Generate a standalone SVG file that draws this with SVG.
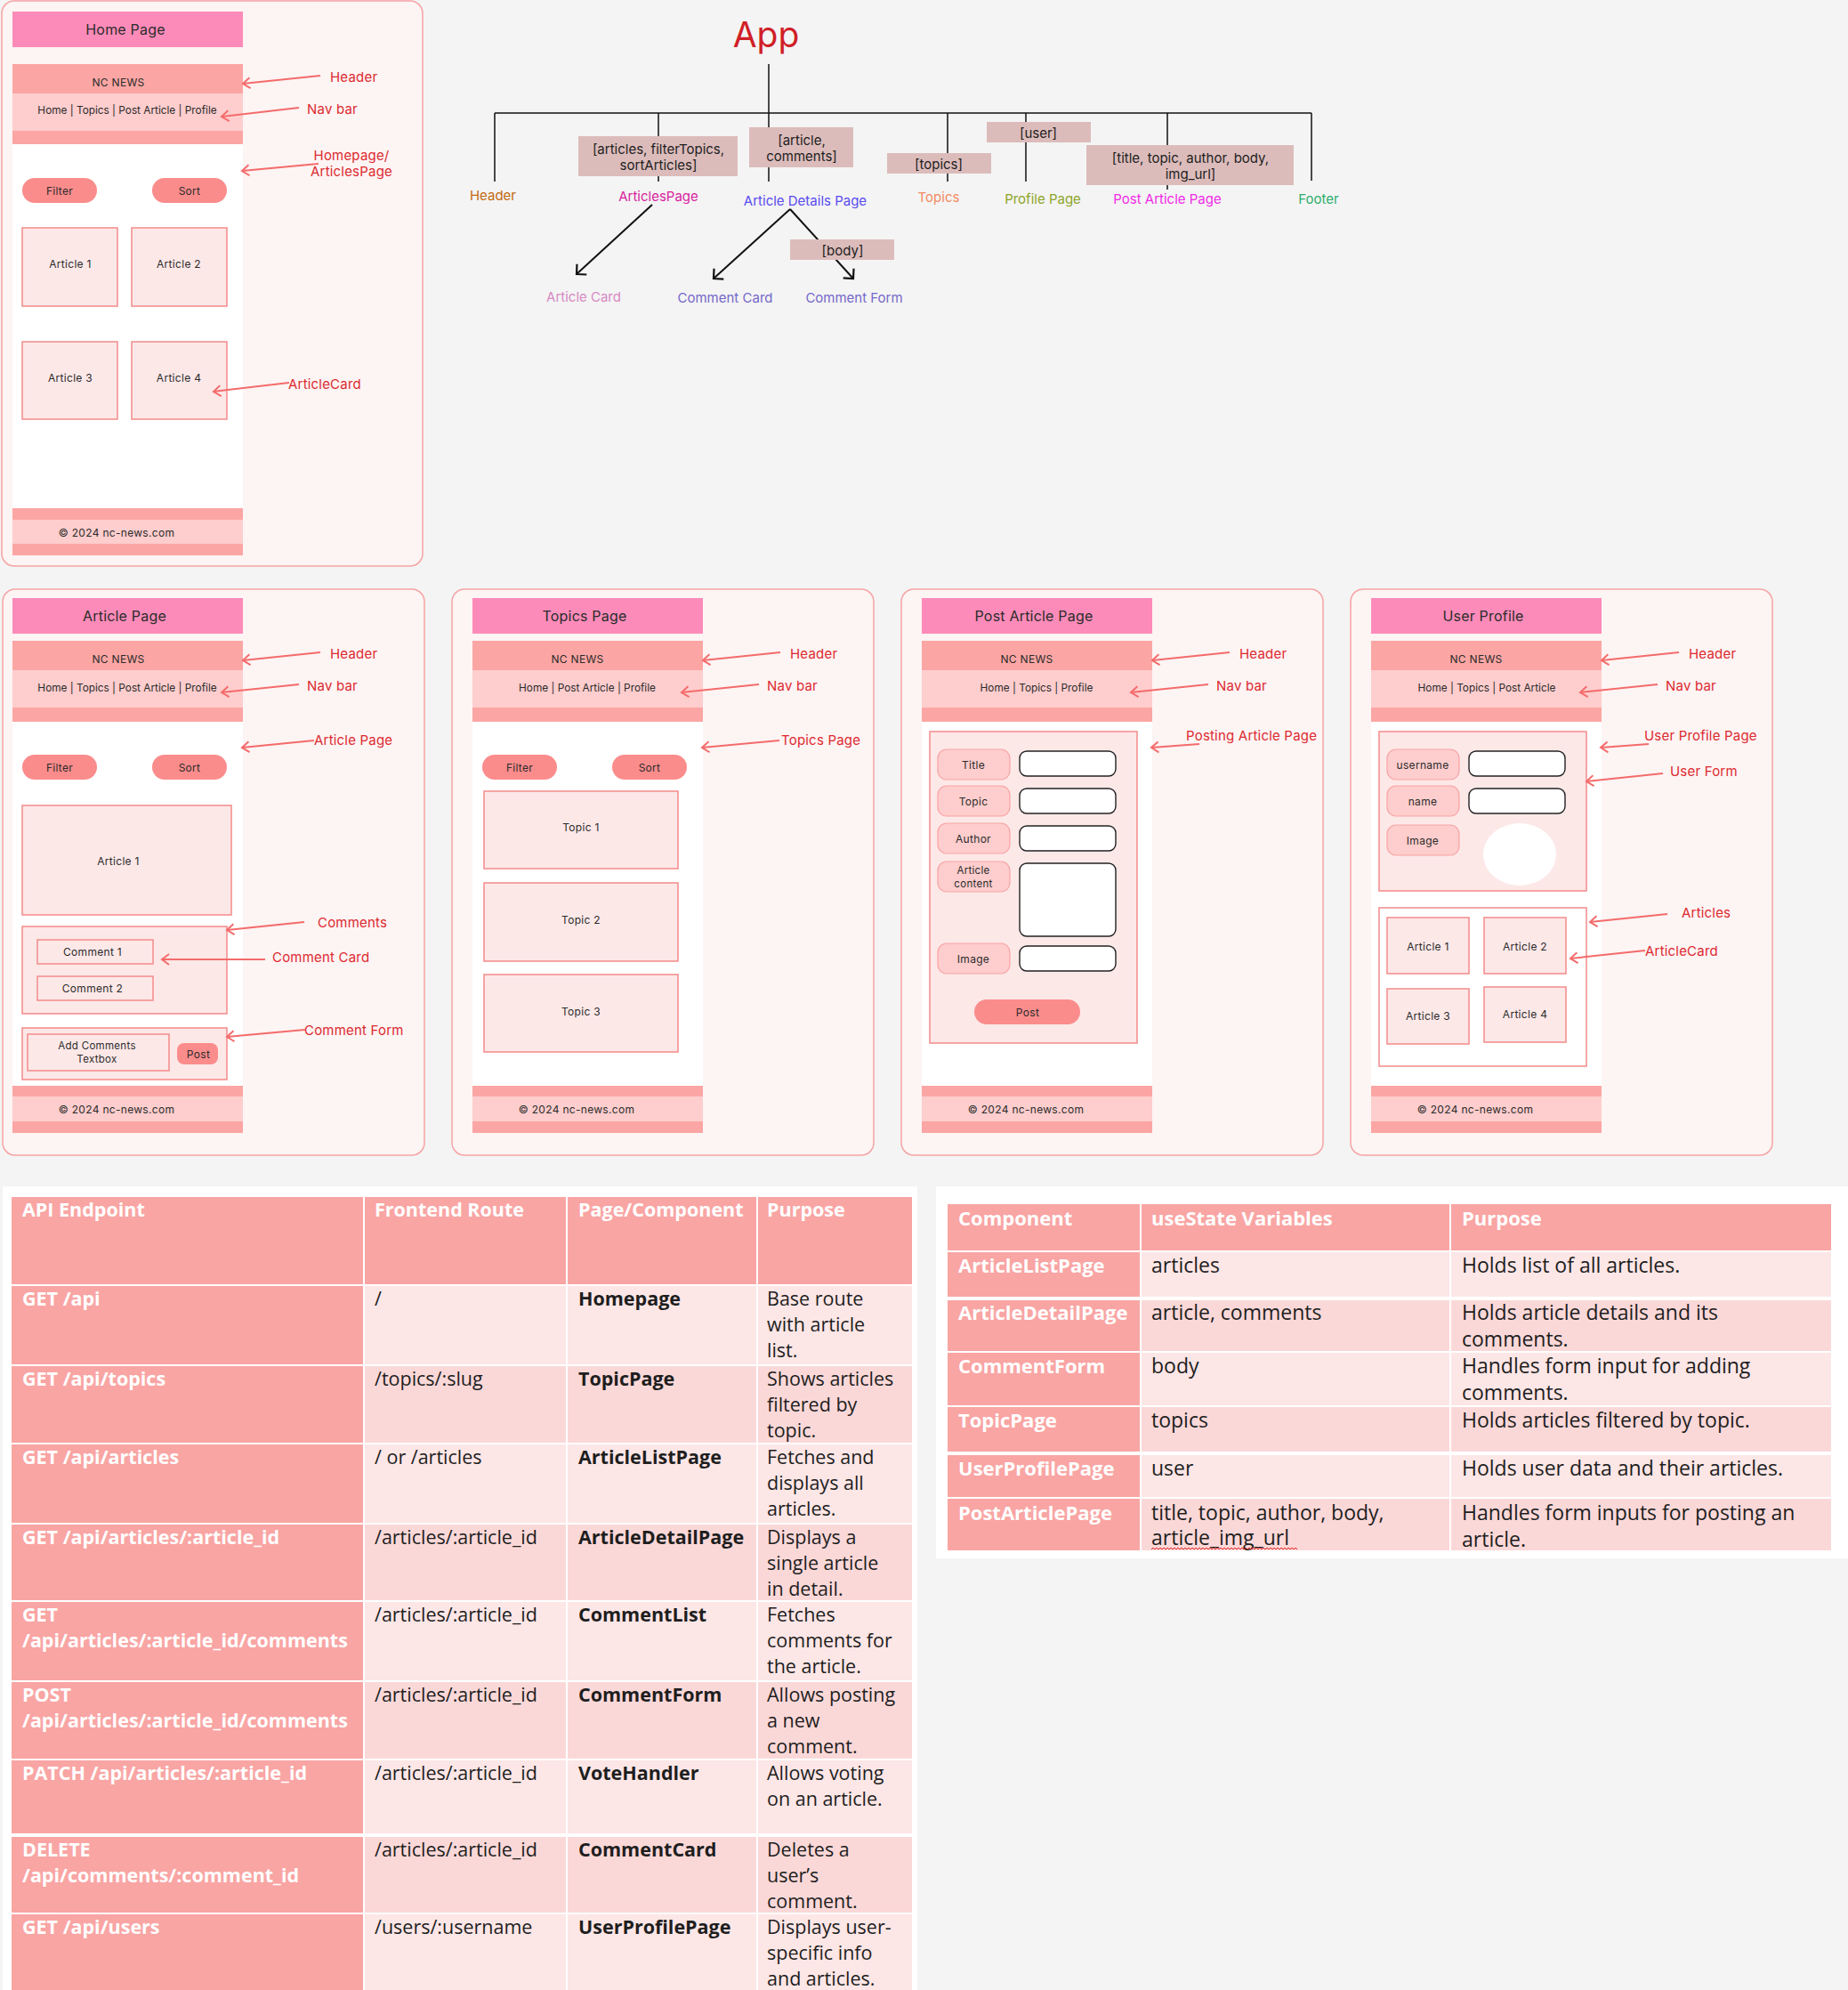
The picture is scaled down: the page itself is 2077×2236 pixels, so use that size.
<svg xmlns="http://www.w3.org/2000/svg" width="2077" height="2236" viewBox="0 0 2077 2236">
<style>
.frame{fill:#fdf4f4;stroke:#f6a3a3;stroke-width:1.5}
.ttl{fill:#fd8bb9}
.band{fill:#fba6a4}
.nav{fill:#fecdcd}
.wh{fill:#ffffff}
.btn{fill:#fb8c8c}
.card{fill:#fde8e8;stroke:#f48a8a;stroke-width:1.5}
.cardw{fill:#ffffff;stroke:#f48a8a;stroke-width:1.5}
.pill{fill:#fecdcd;stroke:#f8a3a3;stroke-width:1.2}
.inp{fill:#ffffff;stroke:#222;stroke-width:1.4}
.w{font-family:Inter,"Liberation Sans",sans-serif;fill:#2b2b2b;text-anchor:middle;dominant-baseline:central;letter-spacing:0.3px}
.s12{font-size:12px}
.s11{font-size:11.5px}
.nv{font-size:11.8px;letter-spacing:0}
.s16{font-size:16px;letter-spacing:0.2px}
.ann{font-family:Inter,"Liberation Sans",sans-serif;font-size:15px;fill:#dc2a2f;dominant-baseline:central;letter-spacing:0.2px}
.mid{text-anchor:middle}
.al{stroke:#f46b6b;stroke-width:2;fill:none;marker-end:url(#ah)}
.tl{stroke:#111;stroke-width:1.5;fill:none}
.ta{stroke:#111;stroke-width:2;fill:none;marker-end:url(#bh)}
.lbl{font-family:Inter,"Liberation Sans",sans-serif;font-size:15px;text-anchor:middle;dominant-baseline:central}
.st{fill:#dcbcbb}
.stt{font-family:Inter,"Liberation Sans",sans-serif;font-size:15px;fill:#1e1e1e;text-anchor:middle;dominant-baseline:central}
.h{fill:#f9a5a4}
.lt{fill:#fde6e6}
.dk{fill:#fbd8d8}
.tb{font-family:"Open Sans","Liberation Sans",sans-serif;font-size:21.5px;fill:#1e1e1e}
.tb2{font-family:"Open Sans","Liberation Sans",sans-serif;font-size:23px;fill:#1e1e1e}
.bw{font-weight:bold;fill:#ffffff}
.bd{font-weight:bold}
.tb2 .bw{font-size:22px}
</style>
<defs>
<marker id="ah" markerUnits="userSpaceOnUse" viewBox="-12 -10 24 20" markerWidth="24" markerHeight="20" refX="0" refY="0" orient="auto">
<path d="M-8,-6 L0,0 L-8,6" fill="none" stroke="#f46b6b" stroke-width="2"/>
</marker>
<marker id="bh" markerUnits="userSpaceOnUse" viewBox="-12 -10 24 20" markerWidth="24" markerHeight="20" refX="0" refY="0" orient="auto">
<path d="M-8,-8 L0,0 L-8,8" fill="none" stroke="#111" stroke-width="2.2"/>
</marker>
</defs>
<rect x="0" y="0" width="2077" height="2236" fill="#f4f4f4"/>

<!-- ===== Home Page ===== -->
<g id="home-page">
<rect class="frame" x="2" y="1" width="473" height="635" rx="14"/>
<rect class="ttl" x="14" y="13" width="259" height="40"/>
<text class="w s16" x="141" y="33">Home Page</text>
<rect class="band" x="14" y="72" width="259" height="33"/>
<rect class="nav" x="14" y="105" width="259" height="42"/>
<rect class="band" x="14" y="147" width="259" height="15"/>
<rect class="wh" x="14" y="162" width="259" height="409"/>
<rect class="band" x="14" y="571" width="259" height="13"/>
<rect class="nav" x="14" y="584" width="259" height="27"/>
<rect class="band" x="14" y="611" width="259" height="13"/>
<text class="w s12" x="133" y="92">NC NEWS</text>
<text class="w nv" x="143" y="124">Home | Topics | Post Article | Profile</text>
<text class="w s12" x="131" y="598">© 2024 nc-news.com</text>
<rect class="btn" x="25" y="200" width="84" height="28" rx="14"/>
<text class="w s12" x="67" y="214">Filter</text>
<rect class="btn" x="171" y="200" width="84" height="28" rx="14"/>
<text class="w s12" x="213" y="214">Sort</text>
<rect class="card" x="25" y="256" width="107" height="88"/>
<text class="w s12" x="79" y="296">Article 1</text>
<rect class="card" x="148" y="256" width="107" height="88"/>
<text class="w s12" x="201" y="296">Article 2</text>
<rect class="card" x="25" y="384" width="107" height="87"/>
<text class="w s12" x="79" y="424">Article 3</text>
<rect class="card" x="148" y="384" width="107" height="87"/>
<text class="w s12" x="201" y="424">Article 4</text>
<text class="ann" x="371" y="86">Header</text>
<text class="ann" x="345" y="122">Nav bar</text>
<text class="ann mid" x="395" y="174">Homepage/</text>
<text class="ann mid" x="395" y="192">ArticlesPage</text>
<text class="ann" x="324" y="431">ArticleCard</text>
</g>

<!-- ===== App tree ===== -->
<g id="app">
<text x="861" y="53" font-family="Inter, 'Liberation Sans', sans-serif" font-size="39" fill="#d01f27" text-anchor="middle">App</text>
</g>
<g id="connectors-tree">
<path class="tl" d="M864,72 V127 M556,127 H1474 M556,127 V204 M740,127 V204 M864,127 V204 M1065,127 V204 M1153,127 V204 M1312,127 V213 M1474,127 V203"/>
<path class="ta" d="M733,230 L648,308"/>
<path class="ta" d="M888,235 L802,313"/>
<path class="ta" d="M888,235 L959,313"/>
</g>
<g id="state-articles"><rect class="st" x="650" y="153" width="179" height="45"/><text class="stt" x="740" y="167">[articles, filterTopics,</text><text class="stt" x="740" y="185">sortArticles]</text></g>
<g id="state-article-comments"><rect class="st" x="842" y="143" width="117" height="45"/><text class="stt" x="901" y="157">[article,</text><text class="stt" x="901" y="175">comments]</text></g>
<g id="state-topics"><rect class="st" x="997" y="172" width="117" height="23"/><text class="stt" x="1055" y="184">[topics]</text></g>
<g id="state-user"><rect class="st" x="1109" y="137" width="117" height="23"/><text class="stt" x="1167" y="149">[user]</text></g>
<g id="state-post"><rect class="st" x="1221" y="163" width="233" height="45"/><text class="stt" x="1338" y="177">[title, topic, author, body,</text><text class="stt" x="1338" y="195">img_url]</text></g>
<g id="state-body"><rect class="st" x="888" y="269" width="117" height="23"/><text class="stt" x="947" y="281">[body]</text></g>
<g id="n-header"><text class="lbl" x="554" y="219" fill="#c26a12">Header</text></g>
<g id="n-articlespage"><text class="lbl" x="740" y="220" fill="#d81f9e">ArticlesPage</text></g>
<g id="n-articledetails"><text class="lbl" x="905" y="225" fill="#5a4cf0">Article Details Page</text></g>
<g id="n-topics"><text class="lbl" x="1055" y="221" fill="#f58a5f">Topics</text></g>
<g id="n-profile"><text class="lbl" x="1172" y="223" fill="#8ea428">Profile Page</text></g>
<g id="n-postarticle"><text class="lbl" x="1312" y="223" fill="#f02be6">Post Article Page</text></g>
<g id="n-footer"><text class="lbl" x="1482" y="223" fill="#2eae6b">Footer</text></g>
<g id="n-articlecard"><text class="lbl" x="656" y="333" fill="#d68ac4">Article Card</text></g>
<g id="n-commentcard"><text class="lbl" x="815" y="334" fill="#7468c9">Comment Card</text></g>
<g id="n-commentform"><text class="lbl" x="960" y="334" fill="#7468c9">Comment Form</text></g>

<!-- ===== Article Page ===== -->
<g id="article-page">
<rect class="frame" x="3" y="662" width="474" height="636" rx="14"/>
<rect class="ttl" x="14" y="672" width="259" height="40"/>
<text class="w s16" x="140" y="692">Article Page</text>
<rect class="band" x="14" y="720" width="259" height="33"/>
<rect class="nav" x="14" y="753" width="259" height="42"/>
<rect class="band" x="14" y="795" width="259" height="16"/>
<rect class="wh" x="14" y="811" width="259" height="409"/>
<rect class="band" x="14" y="1220" width="259" height="12"/>
<rect class="nav" x="14" y="1232" width="259" height="28"/>
<rect class="band" x="14" y="1260" width="259" height="13"/>
<text class="w s12" x="133" y="740">NC NEWS</text>
<text class="w nv" x="143" y="773">Home | Topics | Post Article | Profile</text>
<text class="w s12" x="131" y="1246">© 2024 nc-news.com</text>
<rect class="btn" x="25" y="848" width="84" height="28" rx="14"/>
<text class="w s12" x="67" y="862">Filter</text>
<rect class="btn" x="171" y="848" width="84" height="28" rx="14"/>
<text class="w s12" x="213" y="862">Sort</text>
<rect class="card" x="25" y="905" width="235" height="123"/>
<text class="w s12" x="133" y="967">Article 1</text>
<rect class="card" x="25" y="1041" width="230" height="98"/>
<rect class="card" x="42" y="1056" width="130" height="27"/>
<text class="w s12" x="104" y="1069">Comment 1</text>
<rect class="card" x="42" y="1097" width="130" height="27"/>
<text class="w s12" x="104" y="1110">Comment 2</text>
<rect class="card" x="25" y="1155" width="230" height="58"/>
<rect class="card" x="31" y="1162" width="159" height="41"/>
<text class="w s11" x="109" y="1175">Add Comments</text>
<text class="w s11" x="109" y="1190">Textbox</text>
<rect class="btn" x="199" y="1172" width="46" height="24" rx="8"/>
<text class="w s12" x="223" y="1184">Post</text>
<text class="ann" x="371" y="734">Header</text>
<text class="ann" x="345" y="770">Nav bar</text>
<text class="ann" x="353" y="831">Article Page</text>
<text class="ann" x="357" y="1036">Comments</text>
<text class="ann" x="306" y="1075">Comment Card</text>
<text class="ann" x="342" y="1157">Comment Form</text>
</g>

<!-- ===== Topics Page ===== -->
<g id="topics-page">
<rect class="frame" x="508" y="662" width="474" height="636" rx="14"/>
<rect class="ttl" x="531" y="672" width="259" height="40"/>
<text class="w s16" x="657" y="692">Topics Page</text>
<rect class="band" x="531" y="720" width="259" height="33"/>
<rect class="nav" x="531" y="753" width="259" height="42"/>
<rect class="band" x="531" y="795" width="259" height="16"/>
<rect class="wh" x="531" y="811" width="259" height="409"/>
<rect class="band" x="531" y="1220" width="259" height="12"/>
<rect class="nav" x="531" y="1232" width="259" height="28"/>
<rect class="band" x="531" y="1260" width="259" height="13"/>
<text class="w s12" x="649" y="740">NC NEWS</text>
<text class="w nv" x="660" y="773">Home | Post Article | Profile</text>
<text class="w s12" x="648" y="1246">© 2024 nc-news.com</text>
<rect class="btn" x="542" y="848" width="84" height="28" rx="14"/>
<text class="w s12" x="584" y="862">Filter</text>
<rect class="btn" x="688" y="848" width="84" height="28" rx="14"/>
<text class="w s12" x="730" y="862">Sort</text>
<rect class="card" x="544" y="889" width="218" height="87"/>
<text class="w s12" x="653" y="929">Topic 1</text>
<rect class="card" x="544" y="992" width="218" height="88"/>
<text class="w s12" x="653" y="1033">Topic 2</text>
<rect class="card" x="544" y="1095" width="218" height="87"/>
<text class="w s12" x="653" y="1136">Topic 3</text>
<text class="ann" x="888" y="734">Header</text>
<text class="ann" x="862" y="770">Nav bar</text>
<text class="ann" x="878" y="831">Topics Page</text>
</g>

<!-- ===== Post Article Page ===== -->
<g id="post-article-page">
<rect class="frame" x="1013" y="662" width="474" height="636" rx="14"/>
<rect class="ttl" x="1036" y="672" width="259" height="40"/>
<text class="w s16" x="1162" y="692">Post Article Page</text>
<rect class="band" x="1036" y="720" width="259" height="33"/>
<rect class="nav" x="1036" y="753" width="259" height="42"/>
<rect class="band" x="1036" y="795" width="259" height="16"/>
<rect class="wh" x="1036" y="811" width="259" height="409"/>
<rect class="band" x="1036" y="1220" width="259" height="12"/>
<rect class="nav" x="1036" y="1232" width="259" height="28"/>
<rect class="band" x="1036" y="1260" width="259" height="13"/>
<text class="w s12" x="1154" y="740">NC NEWS</text>
<text class="w nv" x="1165" y="773">Home | Topics | Profile</text>
<text class="w s12" x="1153" y="1246">© 2024 nc-news.com</text>
<rect class="card" x="1045" y="822" width="233" height="350"/>
<rect class="pill" x="1054" y="842" width="81" height="34" rx="10"/>
<text class="w s12" x="1094" y="859">Title</text>
<rect class="pill" x="1054" y="883" width="81" height="34" rx="10"/>
<text class="w s12" x="1094" y="900">Topic</text>
<rect class="pill" x="1054" y="925" width="81" height="34" rx="10"/>
<text class="w s12" x="1094" y="942">Author</text>
<rect class="pill" x="1054" y="968" width="81" height="34" rx="10"/>
<text class="w s11" x="1094" y="978">Article</text>
<text class="w s11" x="1094" y="993">content</text>
<rect class="pill" x="1054" y="1060" width="81" height="34" rx="10"/>
<text class="w s12" x="1094" y="1077">Image</text>
<rect class="inp" x="1146" y="844" width="108" height="28" rx="8"/>
<rect class="inp" x="1146" y="886" width="108" height="28" rx="8"/>
<rect class="inp" x="1146" y="928" width="108" height="28" rx="8"/>
<rect class="inp" x="1146" y="970" width="108" height="82" rx="8"/>
<rect class="inp" x="1146" y="1063" width="108" height="28" rx="8"/>
<rect class="btn" x="1095" y="1123" width="119" height="28" rx="14"/>
<text class="w s12" x="1155" y="1137">Post</text>
<text class="ann" x="1393" y="734">Header</text>
<text class="ann" x="1367" y="770">Nav bar</text>
<text class="ann" x="1333" y="826">Posting Article Page</text>
</g>

<!-- ===== User Profile ===== -->
<g id="user-profile-page">
<rect class="frame" x="1518" y="662" width="474" height="636" rx="14"/>
<rect class="ttl" x="1541" y="672" width="259" height="40"/>
<text class="w s16" x="1667" y="692">User Profile</text>
<rect class="band" x="1541" y="720" width="259" height="33"/>
<rect class="nav" x="1541" y="753" width="259" height="42"/>
<rect class="band" x="1541" y="795" width="259" height="16"/>
<rect class="wh" x="1541" y="811" width="259" height="409"/>
<rect class="band" x="1541" y="1220" width="259" height="12"/>
<rect class="nav" x="1541" y="1232" width="259" height="28"/>
<rect class="band" x="1541" y="1260" width="259" height="13"/>
<text class="w s12" x="1659" y="740">NC NEWS</text>
<text class="w nv" x="1671" y="773">Home | Topics | Post Article</text>
<text class="w s12" x="1658" y="1246">© 2024 nc-news.com</text>
<rect class="card" x="1550" y="822" width="233" height="179"/>
<rect class="pill" x="1559" y="842" width="81" height="34" rx="10"/>
<text class="w s12" x="1599" y="859">username</text>
<rect class="pill" x="1559" y="883" width="81" height="34" rx="10"/>
<text class="w s12" x="1599" y="900">name</text>
<rect class="pill" x="1559" y="927" width="81" height="34" rx="10"/>
<text class="w s12" x="1599" y="944">Image</text>
<rect class="inp" x="1651" y="844" width="108" height="28" rx="8"/>
<rect class="inp" x="1651" y="886" width="108" height="28" rx="8"/>
<ellipse cx="1708" cy="960" rx="41" ry="35" fill="#ffffff"/>
<rect class="cardw" x="1550" y="1020" width="233" height="178"/>
<rect class="card" x="1559" y="1031" width="92" height="63"/>
<text class="w s12" x="1605" y="1063">Article 1</text>
<rect class="card" x="1668" y="1031" width="92" height="63"/>
<text class="w s12" x="1714" y="1063">Article 2</text>
<rect class="card" x="1559" y="1111" width="92" height="62"/>
<text class="w s12" x="1605" y="1141">Article 3</text>
<rect class="card" x="1668" y="1109" width="92" height="62"/>
<text class="w s12" x="1714" y="1139">Article 4</text>
<text class="ann" x="1898" y="734">Header</text>
<text class="ann" x="1872" y="770">Nav bar</text>
<text class="ann" x="1848" y="826">User Profile Page</text>
<text class="ann" x="1877" y="866">User Form</text>
<text class="ann" x="1890" y="1025">Articles</text>
<text class="ann" x="1849" y="1068">ArticleCard</text>
</g>

<!-- ===== Annotation connectors ===== -->
<g id="connectors-annotations">
<path class="al" d="M360,85 L273,94"/>
<path class="al" d="M336,121 L249,131"/>
<path class="al" d="M358,184 L272,192"/>
<path class="al" d="M325,430 L240,440"/>
<path class="al" d="M360,733 L273,742"/>
<path class="al" d="M336,769 L249,778"/>
<path class="al" d="M353,832 L272,840"/>
<path class="al" d="M342,1036 L255,1045"/>
<path class="al" d="M298,1078 L182,1078"/>
<path class="al" d="M343,1157 L255,1165"/>
<path class="al" d="M877,733 L790,742"/>
<path class="al" d="M853,769 L766,778"/>
<path class="al" d="M876,832 L789,840"/>
<path class="al" d="M1382,733 L1295,742"/>
<path class="al" d="M1358,769 L1271,778"/>
<path class="al" d="M1348,836 L1294,840"/>
<path class="al" d="M1887,733 L1800,742"/>
<path class="al" d="M1863,769 L1776,778"/>
<path class="al" d="M1853,836 L1799,840"/>
<path class="al" d="M1869,869 L1783,878"/>
<path class="al" d="M1874,1027 L1787,1036"/>
<path class="al" d="M1849,1068 L1765,1077"/>
</g>

<!-- ===== API table ===== -->
<g id="api-table">
<rect x="3" y="1333" width="1028" height="903" fill="#ffffff"/>
<rect class="h" x="13" y="1345" width="395" height="98"/><rect class="h" x="410" y="1345" width="226" height="98"/><rect class="h" x="638" y="1345" width="212" height="98"/><rect class="h" x="852" y="1345" width="173" height="98"/>
<rect class="h" x="13" y="1445" width="395" height="88"/><rect class="lt" x="410" y="1445" width="226" height="88"/><rect class="lt" x="638" y="1445" width="212" height="88"/><rect class="lt" x="852" y="1445" width="173" height="88"/>
<rect class="h" x="13" y="1535" width="395" height="86"/><rect class="dk" x="410" y="1535" width="226" height="86"/><rect class="dk" x="638" y="1535" width="212" height="86"/><rect class="dk" x="852" y="1535" width="173" height="86"/>
<rect class="h" x="13" y="1623" width="395" height="88"/><rect class="lt" x="410" y="1623" width="226" height="88"/><rect class="lt" x="638" y="1623" width="212" height="88"/><rect class="lt" x="852" y="1623" width="173" height="88"/>
<rect class="h" x="13" y="1713" width="395" height="85"/><rect class="dk" x="410" y="1713" width="226" height="85"/><rect class="dk" x="638" y="1713" width="212" height="85"/><rect class="dk" x="852" y="1713" width="173" height="85"/>
<rect class="h" x="13" y="1800" width="395" height="88"/><rect class="lt" x="410" y="1800" width="226" height="88"/><rect class="lt" x="638" y="1800" width="212" height="88"/><rect class="lt" x="852" y="1800" width="173" height="88"/>
<rect class="h" x="13" y="1890" width="395" height="86"/><rect class="dk" x="410" y="1890" width="226" height="86"/><rect class="dk" x="638" y="1890" width="212" height="86"/><rect class="dk" x="852" y="1890" width="173" height="86"/>
<rect class="h" x="13" y="1978" width="395" height="82"/><rect class="lt" x="410" y="1978" width="226" height="82"/><rect class="lt" x="638" y="1978" width="212" height="82"/><rect class="lt" x="852" y="1978" width="173" height="82"/>
<rect class="h" x="13" y="2064" width="395" height="85"/><rect class="dk" x="410" y="2064" width="226" height="85"/><rect class="dk" x="638" y="2064" width="212" height="85"/><rect class="dk" x="852" y="2064" width="173" height="85"/>
<rect class="h" x="13" y="2151" width="395" height="85"/><rect class="lt" x="410" y="2151" width="226" height="85"/><rect class="lt" x="638" y="2151" width="212" height="85"/><rect class="lt" x="852" y="2151" width="173" height="85"/>
<g class="tb">
<text class="bw" x="25" y="1367">API Endpoint</text><text class="bw" x="421" y="1367">Frontend Route</text><text class="bw" x="650" y="1367">Page/Component</text><text class="bw" x="862" y="1367">Purpose</text>
<text class="bw" x="25" y="1467">GET /api</text><text x="421" y="1467">/</text><text class="bd" x="650" y="1467">Homepage</text><text x="862" y="1467">Base route</text><text x="862" y="1496">with article</text><text x="862" y="1525">list.</text>
<text class="bw" x="25" y="1557">GET /api/topics</text><text x="421" y="1557">/topics/:slug</text><text class="bd" x="650" y="1557">TopicPage</text><text x="862" y="1557">Shows articles</text><text x="862" y="1586">filtered by</text><text x="862" y="1615">topic.</text>
<text class="bw" x="25" y="1645">GET /api/articles</text><text x="421" y="1645">/ or /articles</text><text class="bd" x="650" y="1645">ArticleListPage</text><text x="862" y="1645">Fetches and</text><text x="862" y="1674">displays all</text><text x="862" y="1703">articles.</text>
<text class="bw" x="25" y="1735">GET /api/articles/:article_id</text><text x="421" y="1735">/articles/:article_id</text><text class="bd" x="650" y="1735">ArticleDetailPage</text><text x="862" y="1735">Displays a</text><text x="862" y="1764">single article</text><text x="862" y="1793">in detail.</text>
<text class="bw" x="25" y="1822">GET</text><text class="bw" x="25" y="1851">/api/articles/:article_id/comments</text><text x="421" y="1822">/articles/:article_id</text><text class="bd" x="650" y="1822">CommentList</text><text x="862" y="1822">Fetches</text><text x="862" y="1851">comments for</text><text x="862" y="1880">the article.</text>
<text class="bw" x="25" y="1912">POST</text><text class="bw" x="25" y="1941">/api/articles/:article_id/comments</text><text x="421" y="1912">/articles/:article_id</text><text class="bd" x="650" y="1912">CommentForm</text><text x="862" y="1912">Allows posting</text><text x="862" y="1941">a new</text><text x="862" y="1970">comment.</text>
<text class="bw" x="25" y="2000">PATCH /api/articles/:article_id</text><text x="421" y="2000">/articles/:article_id</text><text class="bd" x="650" y="2000">VoteHandler</text><text x="862" y="2000">Allows voting</text><text x="862" y="2029">on an article.</text>
<text class="bw" x="25" y="2086">DELETE</text><text class="bw" x="25" y="2115">/api/comments/:comment_id</text><text x="421" y="2086">/articles/:article_id</text><text class="bd" x="650" y="2086">CommentCard</text><text x="862" y="2086">Deletes a</text><text x="862" y="2115">user’s</text><text x="862" y="2144">comment.</text>
<text class="bw" x="25" y="2173">GET /api/users</text><text x="421" y="2173">/users/:username</text><text class="bd" x="650" y="2173">UserProfilePage</text><text x="862" y="2173">Displays user-</text><text x="862" y="2202">specific info</text><text x="862" y="2231">and articles.</text>
</g>
</g>

<!-- ===== State table ===== -->
<g id="state-table">
<rect x="1052" y="1333" width="1025" height="418" fill="#ffffff"/>
<rect class="h" x="1065" y="1353" width="216" height="52"/><rect class="h" x="1283" y="1353" width="346" height="52"/><rect class="h" x="1631" y="1353" width="427" height="52"/>
<rect class="h" x="1065" y="1407" width="216" height="50"/><rect class="lt" x="1283" y="1407" width="346" height="50"/><rect class="lt" x="1631" y="1407" width="427" height="50"/>
<rect class="h" x="1065" y="1461" width="216" height="57"/><rect class="dk" x="1283" y="1461" width="346" height="57"/><rect class="dk" x="1631" y="1461" width="427" height="57"/>
<rect class="h" x="1065" y="1520" width="216" height="59"/><rect class="lt" x="1283" y="1520" width="346" height="59"/><rect class="lt" x="1631" y="1520" width="427" height="59"/>
<rect class="h" x="1065" y="1581" width="216" height="50"/><rect class="dk" x="1283" y="1581" width="346" height="50"/><rect class="dk" x="1631" y="1581" width="427" height="50"/>
<rect class="h" x="1065" y="1635" width="216" height="47"/><rect class="lt" x="1283" y="1635" width="346" height="47"/><rect class="lt" x="1631" y="1635" width="427" height="47"/>
<rect class="h" x="1065" y="1684" width="216" height="58"/><rect class="dk" x="1283" y="1684" width="346" height="58"/><rect class="dk" x="1631" y="1684" width="427" height="58"/>
<g class="tb2">
<text class="bw" x="1077" y="1377">Component</text><text class="bw" x="1294" y="1377">useState Variables</text><text class="bw" x="1643" y="1377">Purpose</text>
<text class="bw" x="1077" y="1430">ArticleListPage</text><text x="1294" y="1430">articles</text><text x="1643" y="1430">Holds list of all articles.</text>
<text class="bw" x="1077" y="1483">ArticleDetailPage</text><text x="1294" y="1483">article, comments</text><text x="1643" y="1483">Holds article details and its</text><text x="1643" y="1513">comments.</text>
<text class="bw" x="1077" y="1543">CommentForm</text><text x="1294" y="1543">body</text><text x="1643" y="1543">Handles form input for adding</text><text x="1643" y="1573">comments.</text>
<text class="bw" x="1077" y="1604">TopicPage</text><text x="1294" y="1604">topics</text><text x="1643" y="1604">Holds articles filtered by topic.</text>
<text class="bw" x="1077" y="1658">UserProfilePage</text><text x="1294" y="1658">user</text><text x="1643" y="1658">Holds user data and their articles.</text>
<text class="bw" x="1077" y="1708">PostArticlePage</text><text x="1294" y="1708">title, topic, author, body,</text><text x="1643" y="1708">Handles form inputs for posting an</text>
<text x="1294" y="1736">article_img_url</text><text x="1643" y="1738">article.</text>
</g>
<path d="M1294,1741 l2,-2 l2,2 l2,-2 l2,2 l2,-2 l2,2 l2,-2 l2,2 l2,-2 l2,2 l2,-2 l2,2 l2,-2 l2,2 l2,-2 l2,2 l2,-2 l2,2 l2,-2 l2,2 l2,-2 l2,2 l2,-2 l2,2 l2,-2 l2,2 l2,-2 l2,2 l2,-2 l2,2 l2,-2 l2,2 l2,-2 l2,2 l2,-2 l2,2 l2,-2 l2,2 l2,-2 l2,2 l2,-2 l2,2 l2,-2 l2,2 l2,-2 l2,2 l2,-2 l2,2 l2,-2 l2,2 l2,-2 l2,2 l2,-2 l2,2 l2,-2 l2,2 l2,-2 l2,2 l2,-2 l2,2 l2,-2 l2,2 l2,-2 l2,2 l2,-2 l2,2 l2,-2 l2,2 l2,-2 l2,2 l2,-2 l2,2 l2,-2 l2,2 l2,-2 l2,2 l2,-2 l2,2 l2,-2 l2,2 l2,-2 l2,2" fill="none" stroke="#e02020" stroke-width="1"/>
</g>
</svg>
